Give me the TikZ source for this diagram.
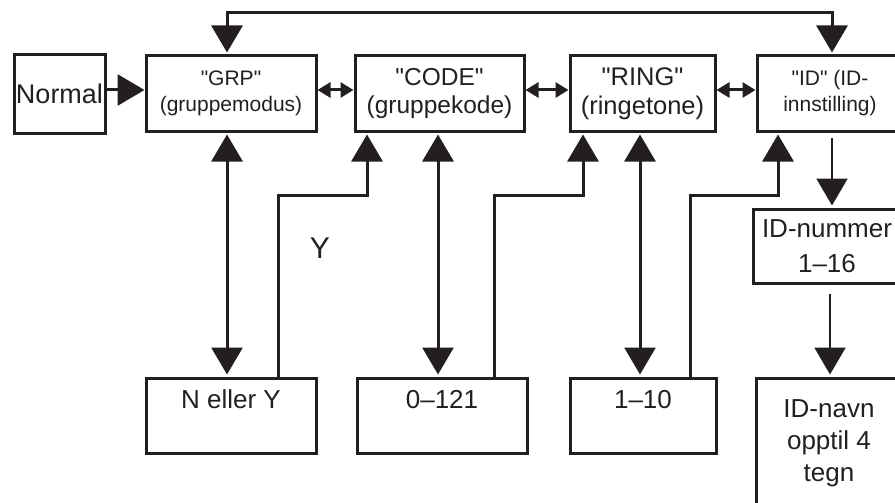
\documentclass[tikz,border=0pt]{standalone}
\usepackage{fontspec}
\setmainfont{Liberation Sans}[Ligatures=TeXOff]
\usetikzlibrary{arrows.meta,calc}
\definecolor{ink}{RGB}{35,31,32}
\begin{document}
\begin{tikzpicture}[x=1pt,y=-1pt,
 box/.style={draw=ink,line width=3pt,inner sep=0pt,text=ink,align=center},
 conn/.style={draw=ink,line width=3pt},
 thin/.style={draw=ink,line width=2.3pt},
 big/.style={-{Triangle[length=27pt,width=31pt]}},
 bigboth/.style={{Triangle[length=27pt,width=31pt]}-{Triangle[length=27pt,width=31pt]}},
 smallboth/.style={{Triangle[length=13pt,width=15pt]}-{Triangle[length=13pt,width=15pt]}},
 lbl/.style={text=ink,inner sep=0pt,align=center}]
\useasboundingbox (0,0) rectangle (895,503);
\clip (0,0) rectangle (895,503);

% top row
\node[box,minimum width=91pt,minimum height=78pt,font=\fontsize{27}{30}\selectfont] (norm) at (59.5,94) {Normal};
\node[box,minimum width=170pt,minimum height=75pt,font=\fontsize{21}{26}\selectfont] (grp) at (231,93.5) {"GRP"\\(gruppemodus)};
\node[box,minimum width=169pt,minimum height=75pt,font=\fontsize{24.5}{28}\selectfont] (code) at (439.5,93.5) {"CODE"\\(gruppekode)};
\node[box,minimum width=145pt,minimum height=75pt,font=\fontsize{25.5}{29}\selectfont] (ring) at (642.5,93.5) {"RING"\\(ringetone)};
\node[box,minimum width=146pt,minimum height=75pt,font=\fontsize{21}{26}\selectfont] (id) at (830,93.5) {"ID" (ID-\\innstilling)};

% right column
\node[box,minimum width=148pt,minimum height=74pt,font=\fontsize{26}{35}\selectfont] (idnum) at (827,246) {ID-nummer\\1–16};
\node[box,minimum width=146pt,minimum height=152pt] (idnavn) at (829,454) {};
\node[lbl,anchor=north,font=\fontsize{26}{32}\selectfont] (tidnavn) at ([yshift=-23pt]idnavn.north) {ID-navn\\opptil 4\\tegn};

% bottom row
\node[box,minimum width=170pt,minimum height=75pt] (ney) at (231,415.5) {};
\node[lbl,anchor=base,font=\fontsize{26}{30}\selectfont] (tney) at ([yshift=-32pt]ney.north) {N eller Y};
\node[box,minimum width=170pt,minimum height=75pt] (c121) at (442,415.5) {};
\node[lbl,anchor=base,font=\fontsize{26}{30}\selectfont] (tc121) at ([yshift=-32pt]c121.north) {0–121};
\node[box,minimum width=146pt,minimum height=75pt] (r110) at (643,415.5) {};
\node[lbl,anchor=base,font=\fontsize{26}{30}\selectfont] (tr110) at ([yshift=-32pt]r110.north) {1–10};

\node[lbl,font=\fontsize{30}{34}\selectfont] (ylbl) at (320,248) {Y};

% connectors
\draw[conn,bigboth,shorten >=2pt,shorten <=2pt] ([xshift=-4pt]grp.north) -- ++(0,-42) -| ([xshift=2pt]id.north);
\draw[conn,big] ([yshift=4pt]norm.east) -- ([yshift=3.5pt]grp.west);
\draw[conn,smallboth] ([yshift=3.5pt]grp.east) -- ([yshift=3.5pt]code.west);
\draw[conn,smallboth] ([yshift=3.5pt]code.east) -- ([yshift=3.5pt]ring.west);
\draw[conn,smallboth] ([yshift=3.5pt]ring.east) -- ([yshift=3.5pt]id.west);

\draw[conn,bigboth,shorten >=2pt,shorten <=2pt] ([xshift=-4pt]grp.south) -- ([xshift=-4pt]ney.north);
\draw[conn,big,shorten >=2pt] ([xshift=47pt]ney.north) -- ++(0,-181) -| ([xshift=-72.5pt]code.south);

\draw[conn,bigboth,shorten >=2pt,shorten <=2pt] ([xshift=-1.5pt]code.south) -- ([xshift=-4pt]c121.north);
\draw[conn,big,shorten >=2pt] ([xshift=52pt]c121.north) -- ++(0,-181) -| ([xshift=-59.5pt]ring.south);

\draw[conn,bigboth,shorten >=2pt,shorten <=2pt] ([xshift=-2.5pt]ring.south) -- ([xshift=-3pt]r110.north);
\draw[conn,big,shorten >=2pt] ([xshift=47pt]r110.north) -- ++(0,-181) -| ([xshift=-52pt]id.south);

\draw[thin,big,shorten <=5pt,shorten >=2pt] ([xshift=2pt]id.south) -- ([xshift=5pt]idnum.north);
\draw[thin,big,shorten <=9pt,shorten >=2pt] ([xshift=3pt]idnum.south) -- ([xshift=1pt]idnavn.north);
\end{tikzpicture}
\end{document}
